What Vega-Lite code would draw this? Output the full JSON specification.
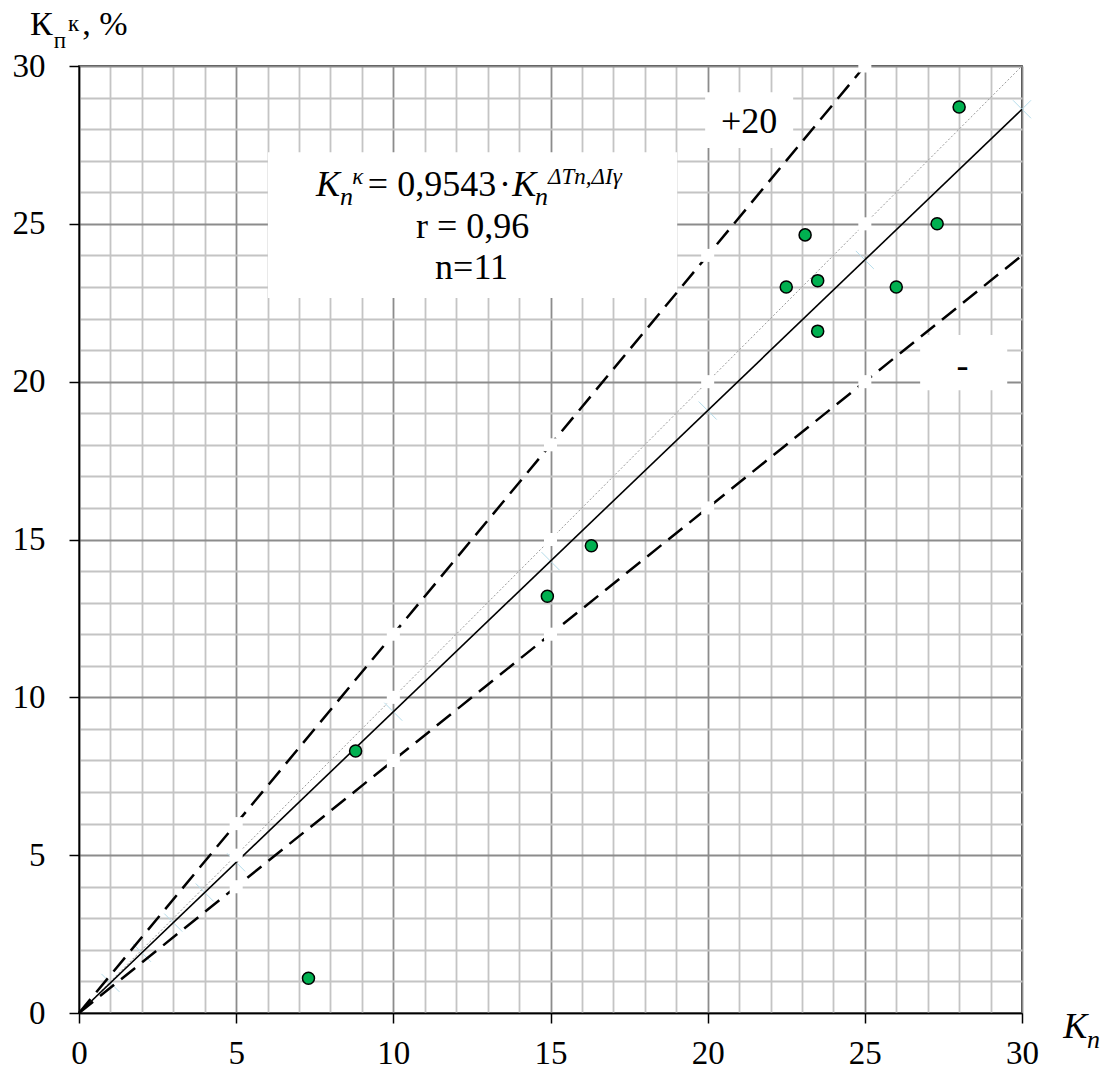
{
  "$schema": "https://vega.github.io/schema/vega-lite/v6.json",
  "width": 943,
  "height": 947,
  "autosize": "none",
  "padding": {"left": 79, "top": 66, "right": 85, "bottom": 62},
  "background": "white",
  "config": {
    "view": {"stroke": "black", "strokeWidth": 1.5},
    "font": "Liberation Serif",
    "axis": {
      "labelFont": "Liberation Serif",
      "labelFontSize": 33,
      "labelColor": "black",
      "labelFlush": false,
      "labelOverlap": false,
      "tickSize": 10,
      "tickWidth": 1.5,
      "domainColor": "black",
      "domainWidth": 1.5,
      "gridWidth": 1.8,
      "gridOpacity": 1
    },
    "axisX": {"labelPadding": 14},
    "axisY": {"labelPadding": 24}
  },
  "encoding": {
    "x": {
      "field": "x", "type": "quantitative",
      "scale": {"domain": [0, 30], "nice": false, "zero": true},
      "axis": {
        "title": null,
        "values": [0,1,2,3,4,5,6,7,8,9,10,11,12,13,14,15,16,17,18,19,20,21,22,23,24,25,26,27,28,29,30],
        "labelExpr": "datum.value % 5 === 0 ? datum.label : ''",
        "tickColor": {"condition": {"test": "datum.value % 5 === 0", "value": "black"}, "value": "transparent"},
        "grid": true,
        "gridColor": {"condition": {"test": "datum.value % 5 === 0", "value": "#8c8c8c"}, "value": "#c4c4c4"}
      }
    },
    "y": {
      "field": "y", "type": "quantitative",
      "scale": {"domain": [0, 30], "nice": false, "zero": true},
      "axis": {
        "title": null,
        "values": [0,1,2,3,4,5,6,7,8,9,10,11,12,13,14,15,16,17,18,19,20,21,22,23,24,25,26,27,28,29,30],
        "labelExpr": "datum.value % 5 === 0 ? datum.label : ''",
        "tickColor": {"condition": {"test": "datum.value % 5 === 0", "value": "black"}, "value": "transparent"},
        "grid": true,
        "gridColor": {"condition": {"test": "datum.value % 5 === 0", "value": "#8c8c8c"}, "value": "#c4c4c4"}
      }
    }
  },
  "layer": [
    {
      "data": {"values": [
        {"x": 6.01, "x2": 19.03, "y": 27.27, "y2": 22.65},
        {"x": 19.92, "x2": 22.72, "y": 29.17, "y2": 27.40},
        {"x": 26.76, "x2": 29.53, "y": 21.48, "y2": 19.73}
      ]},
      "mark": {"type": "rect", "fill": "white", "stroke": null},
      "encoding": {"x2": {"field": "x2"}, "y2": {"field": "y2"}}
    },
    {
      "data": {"values": [
        {"x": 1, "y": 0.9543}, {"x": 2, "y": 1.9086}, {"x": 3, "y": 2.8629}, {"x": 4, "y": 3.8172},
        {"x": 5, "y": 4.7715}, {"x": 10, "y": 9.543}, {"x": 15, "y": 14.3145}, {"x": 20, "y": 19.086},
        {"x": 25, "y": 23.8575}, {"x": 30, "y": 28.629}
      ]},
      "mark": {"type": "point", "shape": "M-1,-1L1,1M-1,1L1,-1", "size": 324, "filled": false, "stroke": "#b5dcea", "strokeWidth": 1, "opacity": 1}
    },
    {
      "data": {"values": [{"x": 0, "y": 0}, {"x": 30, "y": 30}]},
      "mark": {"type": "line", "color": "#9a9a9a", "strokeWidth": 1, "strokeDash": [2, 2]}
    },
    {
      "data": {"values": [{"x": 0, "y": 0}, {"x": 30, "y": 28.629}]},
      "mark": {"type": "line", "color": "black", "strokeWidth": 1.6}
    },
    {
      "data": {"values": [{"x": 0, "y": 0}, {"x": 25, "y": 30}]},
      "mark": {"type": "line", "color": "black", "strokeWidth": 2.5, "strokeDash": [18, 9]}
    },
    {
      "data": {"values": [{"x": 0, "y": 0}, {"x": 30, "y": 24}]},
      "mark": {"type": "line", "color": "black", "strokeWidth": 2.5, "strokeDash": [18, 9]}
    },
    {
      "data": {"values": [
        {"x": 5, "y": 6}, {"x": 10, "y": 12}, {"x": 15, "y": 18}, {"x": 20, "y": 24}, {"x": 25, "y": 30},
        {"x": 5, "y": 5}, {"x": 10, "y": 10}, {"x": 15, "y": 15}, {"x": 20, "y": 20}, {"x": 25, "y": 25},
        {"x": 5, "y": 4}, {"x": 10, "y": 8}, {"x": 15, "y": 12}, {"x": 20, "y": 16}, {"x": 25, "y": 20}
      ]},
      "mark": {"type": "point", "shape": "square", "size": 170, "filled": true, "fill": "white", "stroke": null, "opacity": 1}
    },
    {
      "data": {"values": [
        {"x": 7.3, "y": 1.1}, {"x": 8.8, "y": 8.3}, {"x": 14.9, "y": 13.2}, {"x": 16.3, "y": 14.8},
        {"x": 22.5, "y": 23.0}, {"x": 23.1, "y": 24.65}, {"x": 23.5, "y": 23.2}, {"x": 23.5, "y": 21.6},
        {"x": 26.0, "y": 23.0}, {"x": 27.3, "y": 25.0}, {"x": 28.0, "y": 28.7}
      ]},
      "mark": {"type": "point", "shape": "circle", "size": 145, "filled": true, "fill": "#00B050", "stroke": "black", "strokeWidth": 1.5, "opacity": 1}
    },
    {
      "data": {"values": [
        {"x": 9.19, "y": 25.88, "t": "= 0,9543"},
        {"x": 13.36, "y": 25.88, "t": "·"}
      ]},
      "mark": {"type": "text", "font": "Liberation Serif", "fontSize": 36, "align": "left", "baseline": "alphabetic", "color": "black"},
      "encoding": {"text": {"field": "t"}}
    },
    {
      "data": {"values": [
        {"x": 12.52, "y": 24.55, "t": "r = 0,96"},
        {"x": 12.49, "y": 23.25, "t": "n=11"},
        {"x": 21.32, "y": 27.87, "t": "+20"},
        {"x": 28.11, "y": 20.15, "t": "-"}
      ]},
      "mark": {"type": "text", "font": "Liberation Serif", "fontSize": 36, "align": "center", "baseline": "alphabetic", "color": "black"},
      "encoding": {"text": {"field": "t"}}
    },
    {
      "data": {"values": [
        {"x": 7.54, "y": 25.88, "t": "K"},
        {"x": 13.78, "y": 25.88, "t": "K"},
        {"x": 31.31, "y": -0.79, "t": "K"}
      ]},
      "mark": {"type": "text", "font": "Liberation Serif", "fontSize": 36, "fontStyle": "italic", "align": "left", "baseline": "alphabetic", "color": "black"},
      "encoding": {"text": {"field": "t"}}
    },
    {
      "data": {"values": [
        {"x": 8.30, "y": 25.59, "t": "n"},
        {"x": 14.51, "y": 25.59, "t": "n"},
        {"x": 32.07, "y": -1.11, "t": "n"}
      ]},
      "mark": {"type": "text", "font": "Liberation Serif", "fontSize": 26, "fontStyle": "italic", "align": "left", "baseline": "alphabetic", "color": "black"},
      "encoding": {"text": {"field": "t"}}
    },
    {
      "data": {"values": [
        {"x": 8.69, "y": 26.26, "t": "κ"},
        {"x": 14.92, "y": 26.26, "t": "ΔTn,ΔIγ"}
      ]},
      "mark": {"type": "text", "font": "Liberation Serif", "fontSize": 23, "fontStyle": "italic", "align": "left", "baseline": "alphabetic", "color": "black"},
      "encoding": {"text": {"field": "t"}}
    },
    {
      "data": {"values": [
        {"x": -1.56, "y": 30.98, "t": "К"},
        {"x": 0.10, "y": 30.98, "t": ", %"}
      ]},
      "mark": {"type": "text", "font": "Liberation Serif", "fontSize": 34, "align": "left", "baseline": "alphabetic", "color": "black"},
      "encoding": {"text": {"field": "t"}}
    },
    {
      "data": {"values": [
        {"x": -0.80, "y": 30.56, "t": "п"},
        {"x": -0.35, "y": 31.11, "t": "к"}
      ]},
      "mark": {"type": "text", "font": "Liberation Serif", "fontSize": 23, "align": "left", "baseline": "alphabetic", "color": "black"},
      "encoding": {"text": {"field": "t"}}
    }
  ]
}
